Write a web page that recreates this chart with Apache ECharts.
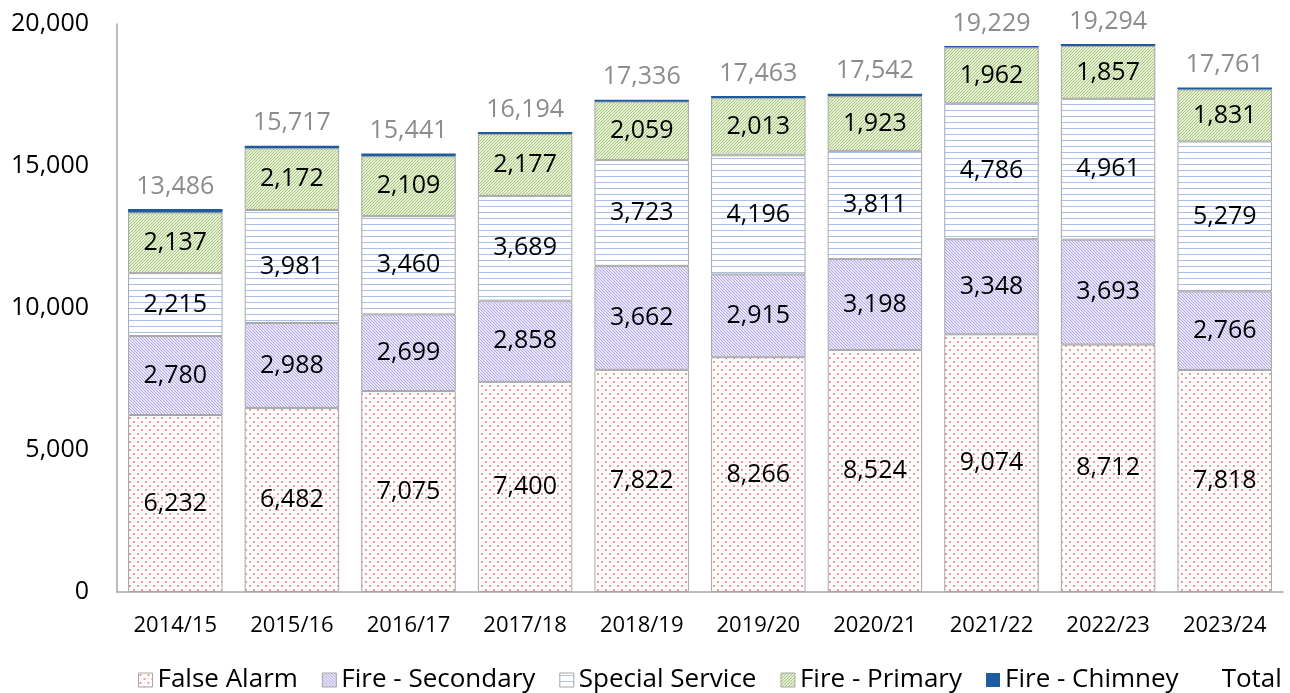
<!DOCTYPE html>
<html><head><meta charset="utf-8">
<script src="https://cdn.jsdelivr.net/npm/echarts@6/dist/echarts.min.js"></script>
<style>html,body{margin:0;padding:0;background:#fff}#c{width:1290px;height:693px}</style>
</head><body><div id="c"></div>
<script>
const categories = ['2014/15','2015/16','2016/17','2017/18','2018/19','2019/20','2020/21','2021/22','2022/23','2023/24'];
const falseAlarm = [6232,6482,7075,7400,7822,8266,8524,9074,8712,7818];
const fireSecondary = [2780,2988,2699,2858,3662,2915,3198,3348,3693,2766];
const specialService = [2215,3981,3460,3689,3723,4196,3811,4786,4961,5279];
const firePrimary = [2137,2172,2109,2177,2059,2013,1923,1962,1857,1831];
const fireChimney = [122,94,98,70,70,73,86,59,71,67];
const totals = [13486,15717,15441,16194,17336,17463,17542,19229,19294,17761];

function tile(w,h,draw){const c=document.createElement('canvas');c.width=w;c.height=h;const x=c.getContext('2d');x.fillStyle='#fff';x.fillRect(0,0,w,h);draw(x);return {image:c,repeat:'repeat'};}
const pDots = tile(8,8,x=>{x.fillStyle='#ec9a9a';x.fillRect(1,1,2,2);x.fillRect(5,5,2,2);x.fillStyle='#f7d0d0';x.fillRect(5,1,1,1);x.fillRect(1,5,1,1);});
const pSec = tile(6,6,x=>{x.strokeStyle='#b3a6e8';x.lineWidth=1.2;x.beginPath();for(let k=-6;k<=12;k+=3){x.moveTo(k,0);x.lineTo(k+6,6);}x.stroke();});
const pSpec = tile(6,6,x=>{x.fillStyle='#a9c1e6';x.fillRect(0,2,6,1);});
const pPrim = tile(6,6,x=>{x.strokeStyle='#a6c877';x.lineWidth=1.2;x.beginPath();for(let k=-6;k<=12;k+=3){x.moveTo(k,6);x.lineTo(k+6,0);}x.stroke();});

const font = '"Open Sans", "Noto Sans", sans-serif';
const fmt = v => v.toLocaleString('en-US');
function seg(name,data,color,showLabel){
  return {name,type:'bar',stack:'s',data,barCategoryGap:'19%',
    itemStyle:{color,borderColor:'#a6a6a6',borderWidth:1},
    label:{show:showLabel,position:'inside',color:'#000',fontSize:25,fontFamily:font,formatter:p=>fmt(p.value)},
    emphasis:{disabled:true}};
}
const lb = {borderColor:'#a6a6a6',borderWidth:1};
const chart = echarts.init(document.getElementById('c'));
chart.setOption({
  animation:false,
  grid:{left:117,right:7,top:24,bottom:101},
  legend:{top:662,left:133,icon:'rect',itemWidth:14,itemHeight:14,itemGap:24,
    textStyle:{fontSize:26,fontFamily:font,color:'#000'},
    data:[{name:'False Alarm',itemStyle:lb},{name:'Fire - Secondary',itemStyle:lb},{name:'Special Service',itemStyle:lb},{name:'Fire - Primary',itemStyle:lb},{name:'Fire - Chimney'},{name:'Total',itemStyle:{color:'rgba(0,0,0,0)',borderWidth:0}}]},
  xAxis:{type:'category',data:categories,axisTick:{show:false},axisLine:{lineStyle:{color:'#a6a6a6',width:1.5}},
    axisLabel:{fontSize:22,fontFamily:font,color:'#000',margin:23}},
  yAxis:{type:'value',min:0,max:20000,interval:5000,splitLine:{show:false},
    axisLine:{show:true,lineStyle:{color:'#a6a6a6',width:1.5}},axisTick:{show:false},
    axisLabel:{fontSize:25,fontFamily:font,color:'#000',margin:28,formatter:v=>fmt(v)}},
  series:[
    seg('False Alarm',falseAlarm,pDots,true),
    seg('Fire - Secondary',fireSecondary,pSec,true),
    seg('Special Service',specialService,pSpec,true),
    seg('Fire - Primary',firePrimary,pPrim,true),
    {name:'Fire - Chimney',type:'bar',stack:'s',data:fireChimney,itemStyle:{color:'#1f5c9e'},emphasis:{disabled:true}},
    {name:'Total',type:'bar',data:totals,barGap:'-100%',z:0,itemStyle:{color:'rgba(0,0,0,0)'},emphasis:{disabled:true},
      label:{show:true,position:'top',distance:10,color:'#8c8c8c',fontSize:25,fontFamily:font,formatter:p=>fmt(p.value)}}
  ]
});
</script></body></html>
